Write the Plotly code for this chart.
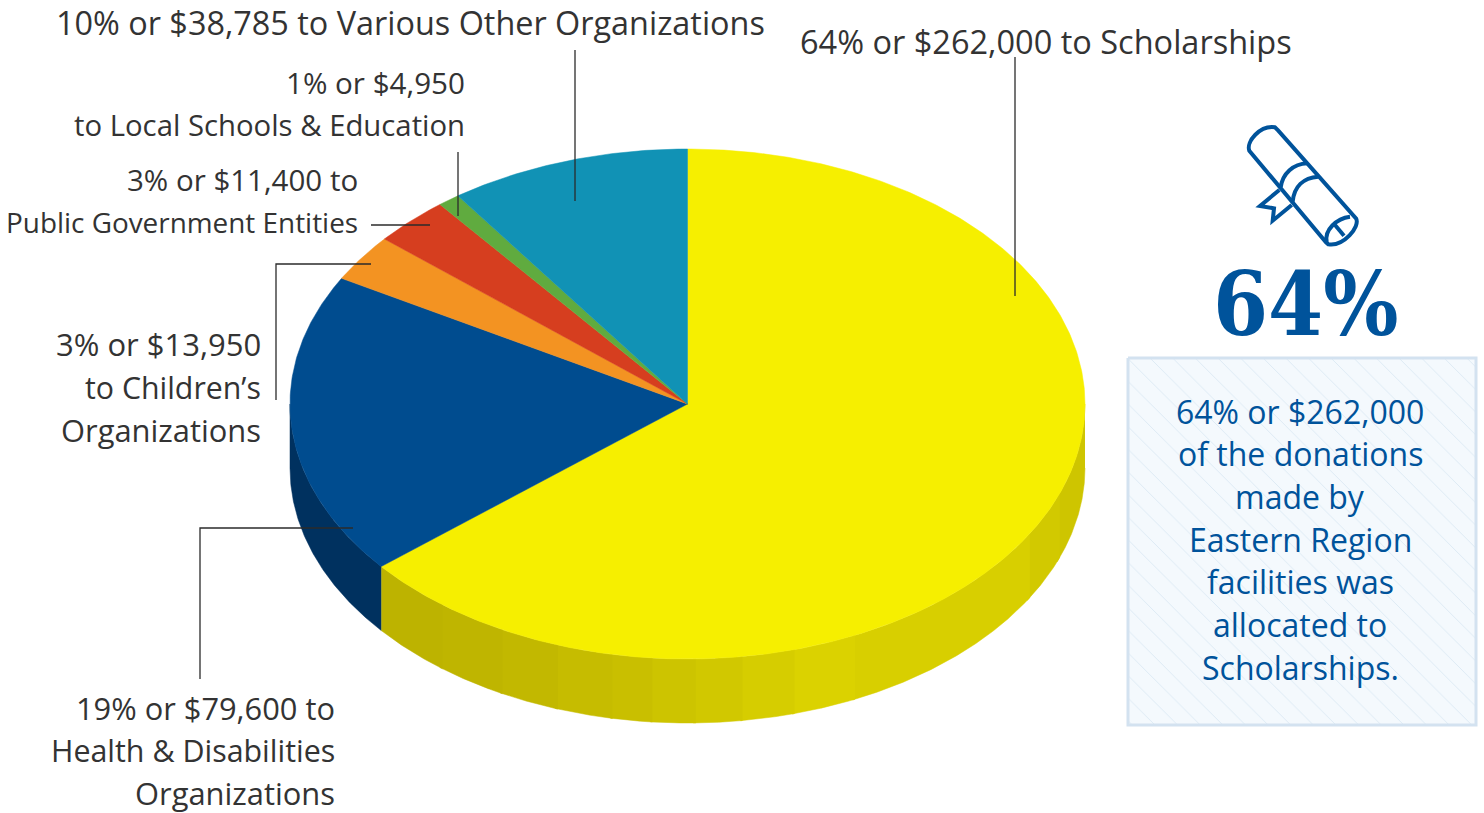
import numpy as np
import plotly.graph_objects as go

# ---- data ----
categories = ["Scholarships", "Health & Disabilities Organizations", "Children's Organizations",
              "Public Government Entities", "Local Schools & Education", "Various Other Organizations"]
percent = [64.0, 19.2, 3.0, 3.1, 0.9, 9.8]
top_colors = ["#F6EF00", "#004C8F", "#F39322", "#D63E1F", "#60AB3F", "#1192B5"]

label_lines = ["10% or $38,785 to Various Other Organizations", "64% or $262,000 to Scholarships",
               "1% or $4,950", "to Local Schools & Education",
               "3% or $11,400 to", "Public Government Entities",
               "3% or $13,950", "to Children\u2019s", "Organizations",
               "19% or $79,600 to", "Health & Disabilities", "Organizations"]
label_x = [54, 798, 467, 467, 360, 360, 263, 263, 263, 337, 337, 337]
label_y = [22, 41, 82, 125, 179, 222, 344, 387, 430, 708, 750, 793]
label_anchor = ["left", "left", "right", "right", "right", "right",
                "right", "right", "right", "right", "right", "right"]
label_size = [32.4, 32.5, 29.6, 29.3, 29.5, 27.9, 31, 30.3, 30.9, 30.8, 30.4, 30.9]

box_lines = ["64% or $262,000", "of the donations", "made by", "Eastern Region",
             "facilities was", "allocated to", "Scholarships."]
box_y = [411, 453, 496, 539, 581, 624, 667]

leaders = [[(1015, 57), (1015, 296)], [(575, 50), (575, 201)], [(458, 152), (458, 216)],
           [(371, 225), (430, 225)], [(276, 400), (276, 264), (371, 264)],
           [(200, 679), (200, 528), (353, 528)]]

# ---- geometry and styles ----
CX, CY, RX, RY, DEPTH = 687.5, 404, 397.5, 255, 64
SANS = "Open Sans"
TEXT = "#333333"
BLUE = "#00539B"
# side shading of the yellow slice (vertical bands, x-limit -> colour)
band_limits = [440, 500, 555, 610, 650, 693, 740, 792, 852, 1027, 1057, 1086]
band_colors = ["#BDB300", "#BFB500", "#C2B800", "#C6BC00", "#C9BF00", "#CDC400",
               "#D1C800", "#D6CD00", "#DBD200", "#D8CF00", "#D2C900", "#CEC500"]
SIDE_BLUE = "#00315F"


def pt(t):
    return CX + RX * np.sin(t), CY - RY * np.cos(t)


fig = go.Figure()
share = np.array(percent) / sum(percent)
edges = np.concatenate([[0], np.cumsum(share)]) * 2 * np.pi


def poly(xs, ys, color, lw=0.5):
    fig.add_trace(go.Scatter(x=list(xs), y=list(ys), mode="lines", fill="toself", fillcolor=color,
                             line=dict(color=color, width=lw), hoverinfo="skip", showlegend=False))


# side wall: painted from the right so each band overlaps the one before it
ts = np.linspace(np.pi / 2, edges[1], 1500)
xs, ys = pt(ts)
for i in range(len(band_limits) - 1, -1, -1):
    lo = band_limits[i - 1] if i else 0
    m = (xs >= lo) & (xs <= band_limits[i] + 3)
    if m.sum() >= 2:
        poly(np.r_[xs[m], xs[m][::-1]], np.r_[ys[m], ys[m][::-1] + DEPTH], band_colors[i])
ts = np.linspace(edges[1], 3 * np.pi / 2, 120)
xs, ys = pt(ts)
poly(np.r_[xs, xs[::-1]], np.r_[ys, ys[::-1] + DEPTH], SIDE_BLUE)

# top face
for i, col in enumerate(top_colors):
    n = max(8, int((edges[i + 1] - edges[i]) * 120))
    ts = np.linspace(edges[i], edges[i + 1], n)
    xs, ys = pt(ts)
    poly(np.r_[CX, xs, CX], np.r_[CY, ys, CY], col)

# callout box
fig.add_trace(go.Scatter(x=[1128, 1476, 1476, 1128, 1128], y=[358, 358, 725, 725, 358], mode="lines",
                         fill="toself", fillcolor="#F4F9FD",
                         fillpattern=dict(shape="\\", size=16, solidity=0.06, fgcolor="#DCE9F4",
                                          bgcolor="#F4F9FD", fillmode="replace"),
                         line=dict(color="#D3E2F0", width=3), hoverinfo="skip", showlegend=False))

# leaders
for seg in leaders:
    fig.add_trace(go.Scatter(x=[p[0] for p in seg], y=[p[1] for p in seg], mode="lines",
                             line=dict(color="#2B2B2B", width=1.3), hoverinfo="skip", showlegend=False))

# labels
for s, x, y, a, z in zip(label_lines, label_x, label_y, label_anchor, label_size):
    fig.add_annotation(x=x, y=y, text=s, xanchor=a, yanchor="middle", showarrow=False,
                       font=dict(family=SANS, size=z, color=TEXT))
for s, y in zip(box_lines, box_y):
    fig.add_annotation(x=1300, y=y, text=s, xanchor="center", yanchor="middle", showarrow=False,
                       font=dict(family=SANS, size=32, color=BLUE))
fig.add_annotation(x=1305, y=304, text="<b>64%</b>", xanchor="center", yanchor="middle", showarrow=False,
                   font=dict(family="DejaVu Serif Condensed", size=88, color=BLUE))


# scroll icon (traced in 3x crop coordinates)
def icon(p):
    out = []
    for tok in p.split():
        if tok.isalpha():
            out.append(tok)
        else:
            a, b = tok.split(",")
            out.append(f"{1120 + float(a) / 3:.1f},{110 + float(b) / 3:.1f}")
    return " ".join(out)


icon_paths = [
    "M 388,122 C 378,95 420,45 465,52 L 475,62 L 708,325 C 722,350 670,410 625,403 L 618,397 Z",
    "M 690,320 C 650,325 612,360 620,397",
    "M 645,345 L 672,377",
    "M 482,232 C 488,190 520,162 562,160",
    "M 518,275 C 522,230 550,203 595,200",
    "M 478,240 L 420,288 L 462,295 L 458,332 L 515,285",
]
for p in icon_paths:
    fig.add_shape(type="path", path=icon(p), xref="x", yref="y",
                  line=dict(color=BLUE, width=4), layer="above")

fig.update_layout(width=1484, height=813, margin=dict(l=0, r=0, t=0, b=0),
                  paper_bgcolor="white", plot_bgcolor="white", showlegend=False,
                  xaxis=dict(range=[0, 1484], visible=False, fixedrange=True),
                  yaxis=dict(range=[813, 0], visible=False, fixedrange=True))
fig.write_html("out.html", config=dict(displayModeBar=False),
               post_script="document.body.style.margin='0';document.body.style.overflow='hidden';")
